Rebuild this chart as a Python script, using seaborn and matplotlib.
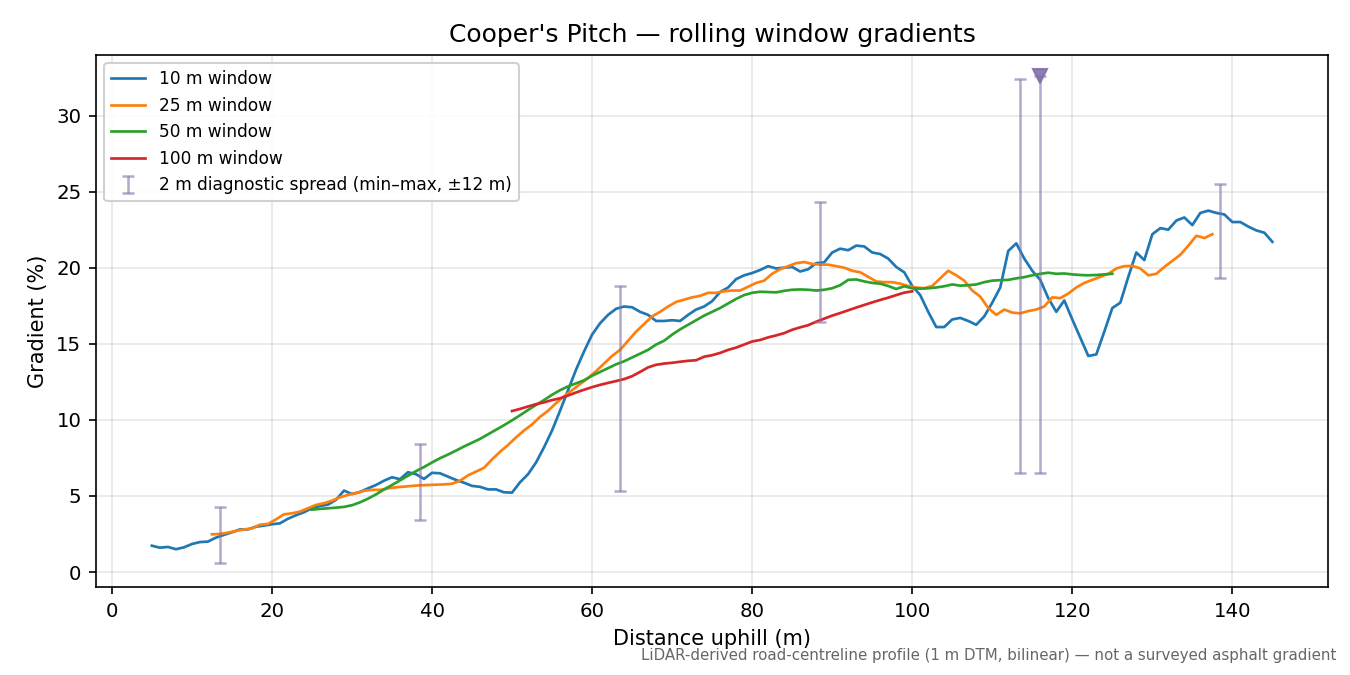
import numpy as np
import pandas as pd
import matplotlib
matplotlib.use("Agg")
import matplotlib.pyplot as plt
import seaborn as sns

# ---------------- data ----------------
x10 = list(range(5, 146))
g10 = [1.73, 1.6, 1.65, 1.5, 1.62, 1.84, 1.97, 2.0, 2.26, 2.44,
       2.61, 2.8, 2.8, 2.98, 3.05, 3.14, 3.2, 3.5, 3.73, 3.93,
       4.19, 4.34, 4.43, 4.74, 5.35, 5.13, 5.26, 5.5, 5.72, 6.0,
       6.23, 6.1, 6.56, 6.43, 6.12, 6.52, 6.49, 6.27, 6.05, 5.87,
       5.66, 5.6, 5.43, 5.43, 5.24, 5.22, 5.9, 6.43, 7.2, 8.2,
       9.3, 10.6, 11.95, 13.3, 14.5, 15.6, 16.35, 16.9, 17.3, 17.45,
       17.4, 17.1, 16.9, 16.5, 16.5, 16.55, 16.5, 16.9, 17.25, 17.45,
       17.8, 18.4, 18.7, 19.25, 19.5, 19.65, 19.85, 20.1, 19.95, 20.0,
       20.05, 19.75, 19.9, 20.3, 20.35, 21.0, 21.25, 21.15, 21.45, 21.4,
       21.0, 20.9, 20.6, 20.05, 19.7, 18.8, 18.2, 17.1, 16.1, 16.1,
       16.6, 16.7, 16.5, 16.25, 16.8, 17.7, 18.7, 21.1, 21.6, 20.6,
       19.8, 19.2, 18.0, 17.1, 17.85, 16.6, 15.4, 14.2, 14.3, 15.8,
       17.35, 17.7, 19.4, 21.0, 20.5, 22.2, 22.6, 22.5, 23.1, 23.3,
       22.8, 23.6, 23.75, 23.6, 23.5, 23.0, 23.0, 22.7, 22.45, 22.3,
       21.7]

x25 = [12.5 + i for i in range(126)]
g25 = [2.48, 2.5, 2.59, 2.7, 2.8, 2.87, 3.11, 3.16, 3.46, 3.79,
       3.86, 3.97, 4.19, 4.41, 4.52, 4.69, 4.91, 5.07, 5.18, 5.34,
       5.4, 5.4, 5.5, 5.57, 5.61, 5.66, 5.7, 5.72, 5.74, 5.76,
       5.8, 6.0, 6.35, 6.6, 6.85, 7.4, 7.9, 8.35, 8.85, 9.3,
       9.7, 10.2, 10.6, 11.1, 11.55, 11.95, 12.35, 12.75, 13.2, 13.7,
       14.2, 14.6, 15.2, 15.8, 16.3, 16.8, 17.1, 17.45, 17.75, 17.9,
       18.05, 18.15, 18.35, 18.35, 18.45, 18.5, 18.5, 18.75, 19.0, 19.15,
       19.6, 19.9, 20.1, 20.3, 20.37, 20.25, 20.2, 20.2, 20.1, 20.0,
       19.8, 19.7, 19.4, 19.1, 19.05, 19.05, 18.95, 18.8, 18.7, 18.65,
       18.8, 19.3, 19.8, 19.5, 19.15, 18.5, 18.1, 17.35, 16.9, 17.25,
       17.05, 17.0, 17.15, 17.25, 17.45, 18.05, 18.0, 18.3, 18.7, 19.0,
       19.2, 19.4, 19.6, 19.95, 20.1, 20.12, 19.95, 19.5, 19.6, 20.05,
       20.45, 20.85, 21.45, 22.1, 21.95, 22.2]

x50 = list(range(25, 126))
g50 = [4.1, 4.15, 4.19, 4.23, 4.28, 4.39, 4.58, 4.82, 5.1, 5.42,
       5.72, 6.02, 6.33, 6.63, 6.9, 7.2, 7.48, 7.72, 7.98, 8.25,
       8.5, 8.75, 9.05, 9.35, 9.65, 9.97, 10.3, 10.65, 10.98, 11.3,
       11.65, 11.95, 12.2, 12.4, 12.6, 12.9, 13.15, 13.4, 13.65, 13.85,
       14.1, 14.35, 14.6, 14.95, 15.2, 15.6, 15.95, 16.25, 16.55, 16.85,
       17.1, 17.35, 17.65, 17.95, 18.2, 18.35, 18.42, 18.4, 18.38, 18.48,
       18.55, 18.57, 18.55, 18.5, 18.55, 18.65, 18.85, 19.2, 19.23, 19.1,
       19.0, 18.95, 18.8, 18.6, 18.78, 18.65, 18.62, 18.65, 18.7, 18.78,
       18.9, 18.82, 18.85, 18.9, 19.05, 19.15, 19.18, 19.2, 19.3, 19.38,
       19.5, 19.6, 19.67, 19.6, 19.62, 19.56, 19.52, 19.5, 19.52, 19.56,
       19.6]

x100 = list(range(50, 101))
g100 = [10.58, 10.72, 10.88, 11.03, 11.15, 11.3, 11.42, 11.6, 11.8, 11.98,
        12.15, 12.3, 12.43, 12.55, 12.68, 12.87, 13.15, 13.45, 13.62, 13.7,
        13.75, 13.82, 13.88, 13.92, 14.15, 14.25, 14.4, 14.6, 14.75, 14.95,
        15.15, 15.25, 15.42, 15.55, 15.7, 15.92, 16.08, 16.22, 16.45, 16.65,
        16.85, 17.02, 17.2, 17.38, 17.55, 17.72, 17.88, 18.03, 18.2, 18.36,
        18.45]

series_labels = ["10 m window", "25 m window", "50 m window", "100 m window"]
series_colors = ["#1f77b4", "#ff7f0e", "#2ca02c", "#d62728"]

# 2 m diagnostic spread (min-max within +-12 m)
diag_x = [13.5, 38.5, 63.5, 88.5, 113.5, 116.0, 138.5]
diag_lo = [0.6, 3.4, 5.3, 16.4, 6.5, 6.5, 19.3]
diag_hi = [4.3, 8.4, 18.8, 24.3, 32.4, 32.6, 25.5]
diag_clipped = [False, False, False, False, False, True, False]

y_limits = (-1.0, 34.0)

# ---------------- plot ----------------
fig, ax = plt.subplots(figsize=(9, 4.5), dpi=150)
fig.subplots_adjust(left=0.071, right=0.984, top=0.919, bottom=0.130)

frames = []
for xs, ys, lab in zip([x10, x25, x50, x100], [g10, g25, g50, g100], series_labels):
    frames.append(pd.DataFrame({"dist": xs, "grad": ys, "window": lab}))
df = pd.concat(frames, ignore_index=True)

for lab, col in zip(series_labels, series_colors):
    sub = df[df["window"] == lab]
    sns.lineplot(data=sub, x="dist", y="grad", color=col, lw=1.3,
                 label=lab, ax=ax, estimator=None, sort=False)

dx = np.array(diag_x)
lo = np.array(diag_lo)
hi = np.array(diag_hi)
mid = (lo + hi) / 2
bar_col = "#8070aa"
ax.errorbar(dx, mid, yerr=[mid - lo, hi - mid], fmt="none", ecolor=bar_col,
            elinewidth=1.2, capsize=2.8, capthick=1.2, alpha=0.6,
            label="2 m diagnostic spread (min\u2013max, \u00b112 m)")
clip_mask = np.array(diag_clipped)
ax.plot(dx[clip_mask], hi[clip_mask], linestyle="none", marker="v",
        markersize=7, color=bar_col, alpha=0.9, zorder=5)

ax.set_ylim(*y_limits)
ax.grid(True, color="#b0b0b0", alpha=0.3, lw=0.8)
ax.set_xlabel("Distance uphill (m)", fontsize=10)
ax.set_ylabel("Gradient (%)", fontsize=10)
ax.set_title("Cooper's Pitch \u2014 rolling window gradients", fontsize=12)
ax.tick_params(labelsize=9.5)
ax.legend(loc="upper left", fontsize=8.2, framealpha=0.9)

fig.text(0.99, 0.018,
         "LiDAR-derived road-centreline profile (1 m DTM, bilinear) \u2014 not a surveyed asphalt gradient",
         ha="right", va="bottom", fontsize=7.2, color="#666666")

fig.savefig("out.png", dpi=150)
